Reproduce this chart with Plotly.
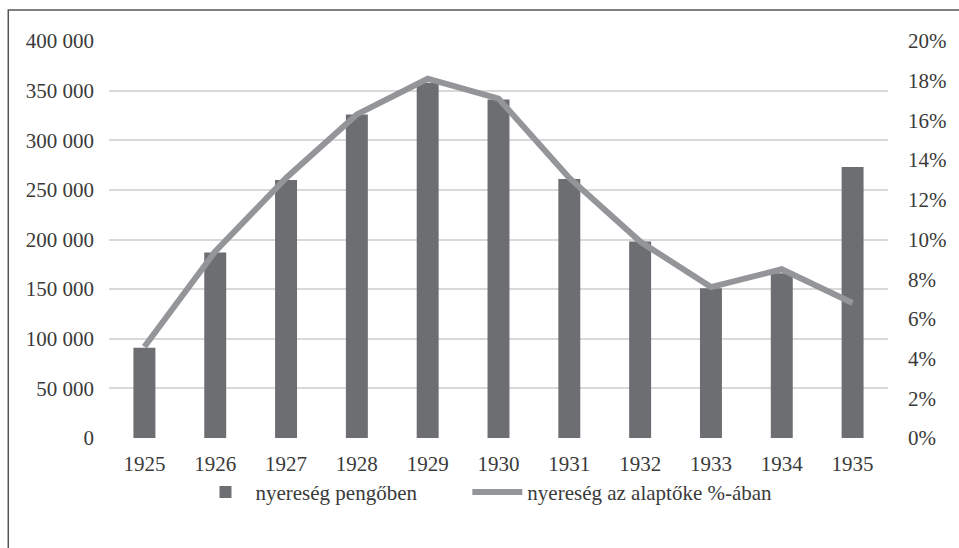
import plotly.graph_objects as go

years = ["1925", "1926", "1927", "1928", "1929", "1930", "1931", "1932", "1933", "1934", "1935"]
profit_pengo = [91000, 187000, 260000, 326000, 358000, 341000, 261000, 198000, 151000, 166000, 273000]
profit_pct = [4.6, 9.4, 13.1, 16.3, 18.1, 17.1, 13.1, 9.9, 7.6, 8.5, 6.8]
left_ticks = [0, 50000, 100000, 150000, 200000, 250000, 300000, 350000, 400000]
right_ticks = [0, 2, 4, 6, 8, 10, 12, 14, 16, 18, 20]
right_labels = [f"{v}%" for v in right_ticks]

FONT = "Liberation Serif"
TXT = "#3a3a3a"

fig = go.Figure()
fig.add_trace(go.Bar(
    x=years, y=profit_pengo, name="nyereség pengőben",
    marker=dict(color="#6d6e71", line=dict(width=0)),
    yaxis="y", legend="legend",
))
fig.add_trace(go.Scatter(
    x=years, y=profit_pct, name="nyereség az alaptőke %-ában",
    mode="lines", line=dict(color="#939598", width=6),
    yaxis="y2", legend="legend2",
))

leg_common = dict(orientation="h", y=-0.085, yanchor="top", xanchor="left",
                  font=dict(family=FONT, size=21, color=TXT), itemwidth=50,
                  bgcolor="rgba(0,0,0,0)")

fig.update_layout(
    width=959, height=548,
    margin=dict(l=109, r=69, t=41, b=110),
    paper_bgcolor="white", plot_bgcolor="white",
    font=dict(family=FONT, size=21, color=TXT),
    separators=". ",
    bargap=0.69,
    showlegend=True,
    legend=dict(x=0.111, **leg_common),
    legend2=dict(x=0.460, **leg_common),
    xaxis=dict(showgrid=False, showline=False, ticks="", ticklabelstandoff=11),
    yaxis=dict(range=[0, 400000], tickvals=left_ticks, tickformat=",d",
               showgrid=True, gridcolor="#d9d9d9", gridwidth=2, zeroline=False,
               showline=False, ticks="", ticklabelstandoff=14),
    yaxis2=dict(range=[0, 20], tickvals=right_ticks, ticktext=right_labels,
                overlaying="y", side="right", showgrid=False, zeroline=False,
                showline=False, ticks="", ticklabelstandoff=19),
    shapes=[dict(type="rect", xref="paper", yref="paper",
                 x0=-0.1293, x1=1.2, y0=-0.5, y1=1.078,
                 line=dict(color="#555555", width=1.5), fillcolor="rgba(0,0,0,0)",
                 layer="below")],
)

fig.write_html("out.html", config={"displayModeBar": False},
               post_script="document.body.style.margin='0px';")
